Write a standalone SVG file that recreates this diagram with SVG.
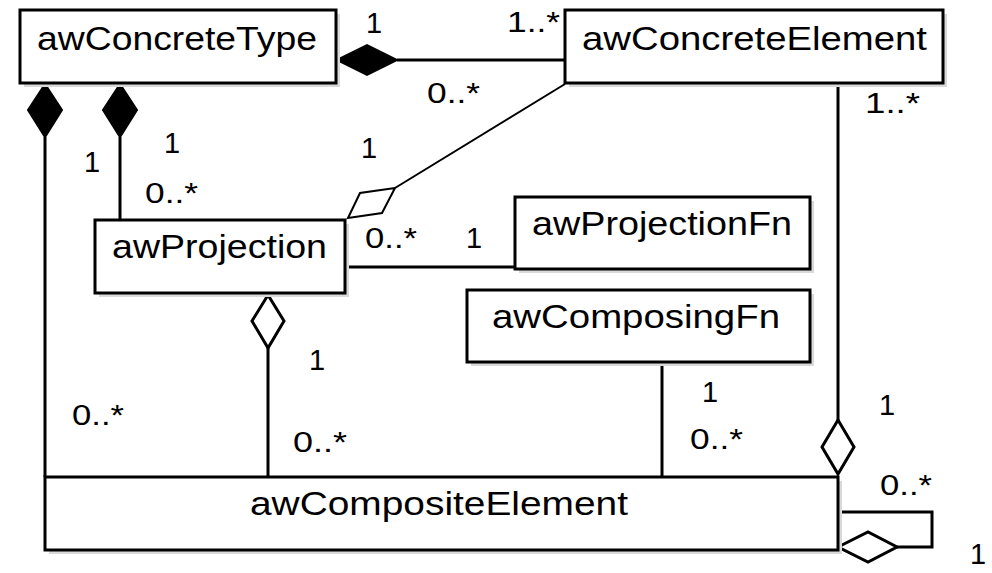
<svg xmlns="http://www.w3.org/2000/svg" width="992" height="573" viewBox="0 0 992 573">
<style>
.box{fill:#fff;stroke:#000;stroke-width:3}
.shadow{fill:#d9d9d9}
.name{font-family:"Liberation Sans",Arial,sans-serif;font-size:33px;fill:#000}
.lbl{font-family:"Liberation Sans",Arial,sans-serif;font-size:29px;fill:#000}
.ln{fill:none;stroke:#000;stroke-width:3}
.thin{fill:none;stroke:#000;stroke-width:2}
.filled{fill:#000;stroke:#000;stroke-width:2}
.hollow{fill:#fff;stroke:#000;stroke-width:3}
</style>
<rect width="992" height="573" fill="#fff"/>

<g id="connectors">
  <line class="ln" x1="397" y1="60" x2="565" y2="60"/>
  <polygon class="filled" points="337,60 367,45 397,60 367,75"/>
  <line class="ln" x1="45" y1="137" x2="45" y2="477"/>
  <polygon class="filled" points="45,84 62,110 45,137 28,110"/>
  <line class="ln" x1="120" y1="137" x2="120" y2="220"/>
  <polygon class="filled" points="120,84 137,110 120,137 103,110"/>
  <line class="thin" x1="395" y1="188" x2="565" y2="84"/>
  <polygon class="thin" fill="#fff" points="348,218 360,193 395,188 382,213"/>
  <line class="ln" x1="345" y1="267" x2="515" y2="267"/>
  <line class="ln" x1="268" y1="348" x2="268" y2="477"/>
  <polygon class="hollow" points="268,295 284,321 268,348 252,321"/>
  <line class="ln" x1="662" y1="363" x2="662" y2="477"/>
  <line class="ln" x1="838" y1="84" x2="838" y2="420"/>
  <polygon class="hollow" points="838,420 854,447 838,474 822,447"/>
  <polyline class="ln" points="838,512 932,512 932,547 897,547"/>
  <polygon class="hollow" points="838,547 868,532 897,547 868,562"/>
</g>

<g id="awConcreteType">
  <rect class="shadow" x="24" y="14" width="316" height="73"/>
  <rect class="box" x="20" y="10" width="316" height="73"/>
  <text class="name" x="37" y="50" textLength="280" lengthAdjust="spacingAndGlyphs">awConcreteType</text>
</g>
<g id="awConcreteElement">
  <rect class="shadow" x="569" y="14" width="378" height="73"/>
  <rect class="box" x="565" y="10" width="378" height="73"/>
  <text class="name" x="582" y="50" textLength="345" lengthAdjust="spacingAndGlyphs">awConcreteElement</text>
</g>
<g id="awProjection">
  <rect class="shadow" x="99" y="224" width="250" height="73"/>
  <rect class="box" x="95" y="220" width="250" height="73"/>
  <text class="name" x="112" y="258" textLength="215" lengthAdjust="spacingAndGlyphs">awProjection</text>
</g>
<g id="awProjectionFn">
  <rect class="shadow" x="519" y="201" width="295" height="72"/>
  <rect class="box" x="515" y="197" width="295" height="72"/>
  <text class="name" x="532" y="235" textLength="260" lengthAdjust="spacingAndGlyphs">awProjectionFn</text>
</g>
<g id="awComposingFn">
  <rect class="shadow" x="471" y="294" width="343" height="72"/>
  <rect class="box" x="467" y="290" width="343" height="72"/>
  <text class="name" x="492" y="328" textLength="288" lengthAdjust="spacingAndGlyphs">awComposingFn</text>
</g>
<g id="awCompositeElement">
  <rect class="shadow" x="49" y="481" width="793" height="73"/>
  <rect class="box" x="45" y="477" width="793" height="73"/>
  <text class="name" x="250" y="515" textLength="378" lengthAdjust="spacingAndGlyphs">awCompositeElement</text>
</g>

<g id="labels">
  <text class="lbl" x="366" y="33">1</text>
  <text class="lbl" x="507" y="32" textLength="53" lengthAdjust="spacingAndGlyphs">1..*</text>
  <text class="lbl" x="427" y="103" textLength="53" lengthAdjust="spacingAndGlyphs">0..*</text>
  <text class="lbl" x="865" y="113" textLength="55" lengthAdjust="spacingAndGlyphs">1..*</text>
  <text class="lbl" x="361" y="158">1</text>
  <text class="lbl" x="84" y="172">1</text>
  <text class="lbl" x="164" y="153">1</text>
  <text class="lbl" x="145" y="203" textLength="53" lengthAdjust="spacingAndGlyphs">0..*</text>
  <text class="lbl" x="365" y="248" textLength="52" lengthAdjust="spacingAndGlyphs">0..*</text>
  <text class="lbl" x="466" y="248">1</text>
  <text class="lbl" x="309" y="370">1</text>
  <text class="lbl" x="72" y="425" textLength="52" lengthAdjust="spacingAndGlyphs">0..*</text>
  <text class="lbl" x="293" y="452" textLength="54" lengthAdjust="spacingAndGlyphs">0..*</text>
  <text class="lbl" x="702" y="402">1</text>
  <text class="lbl" x="690" y="449" textLength="53" lengthAdjust="spacingAndGlyphs">0..*</text>
  <text class="lbl" x="879" y="415">1</text>
  <text class="lbl" x="880" y="495" textLength="52" lengthAdjust="spacingAndGlyphs">0..*</text>
  <text class="lbl" x="970" y="564">1</text>
</g>
</svg>
